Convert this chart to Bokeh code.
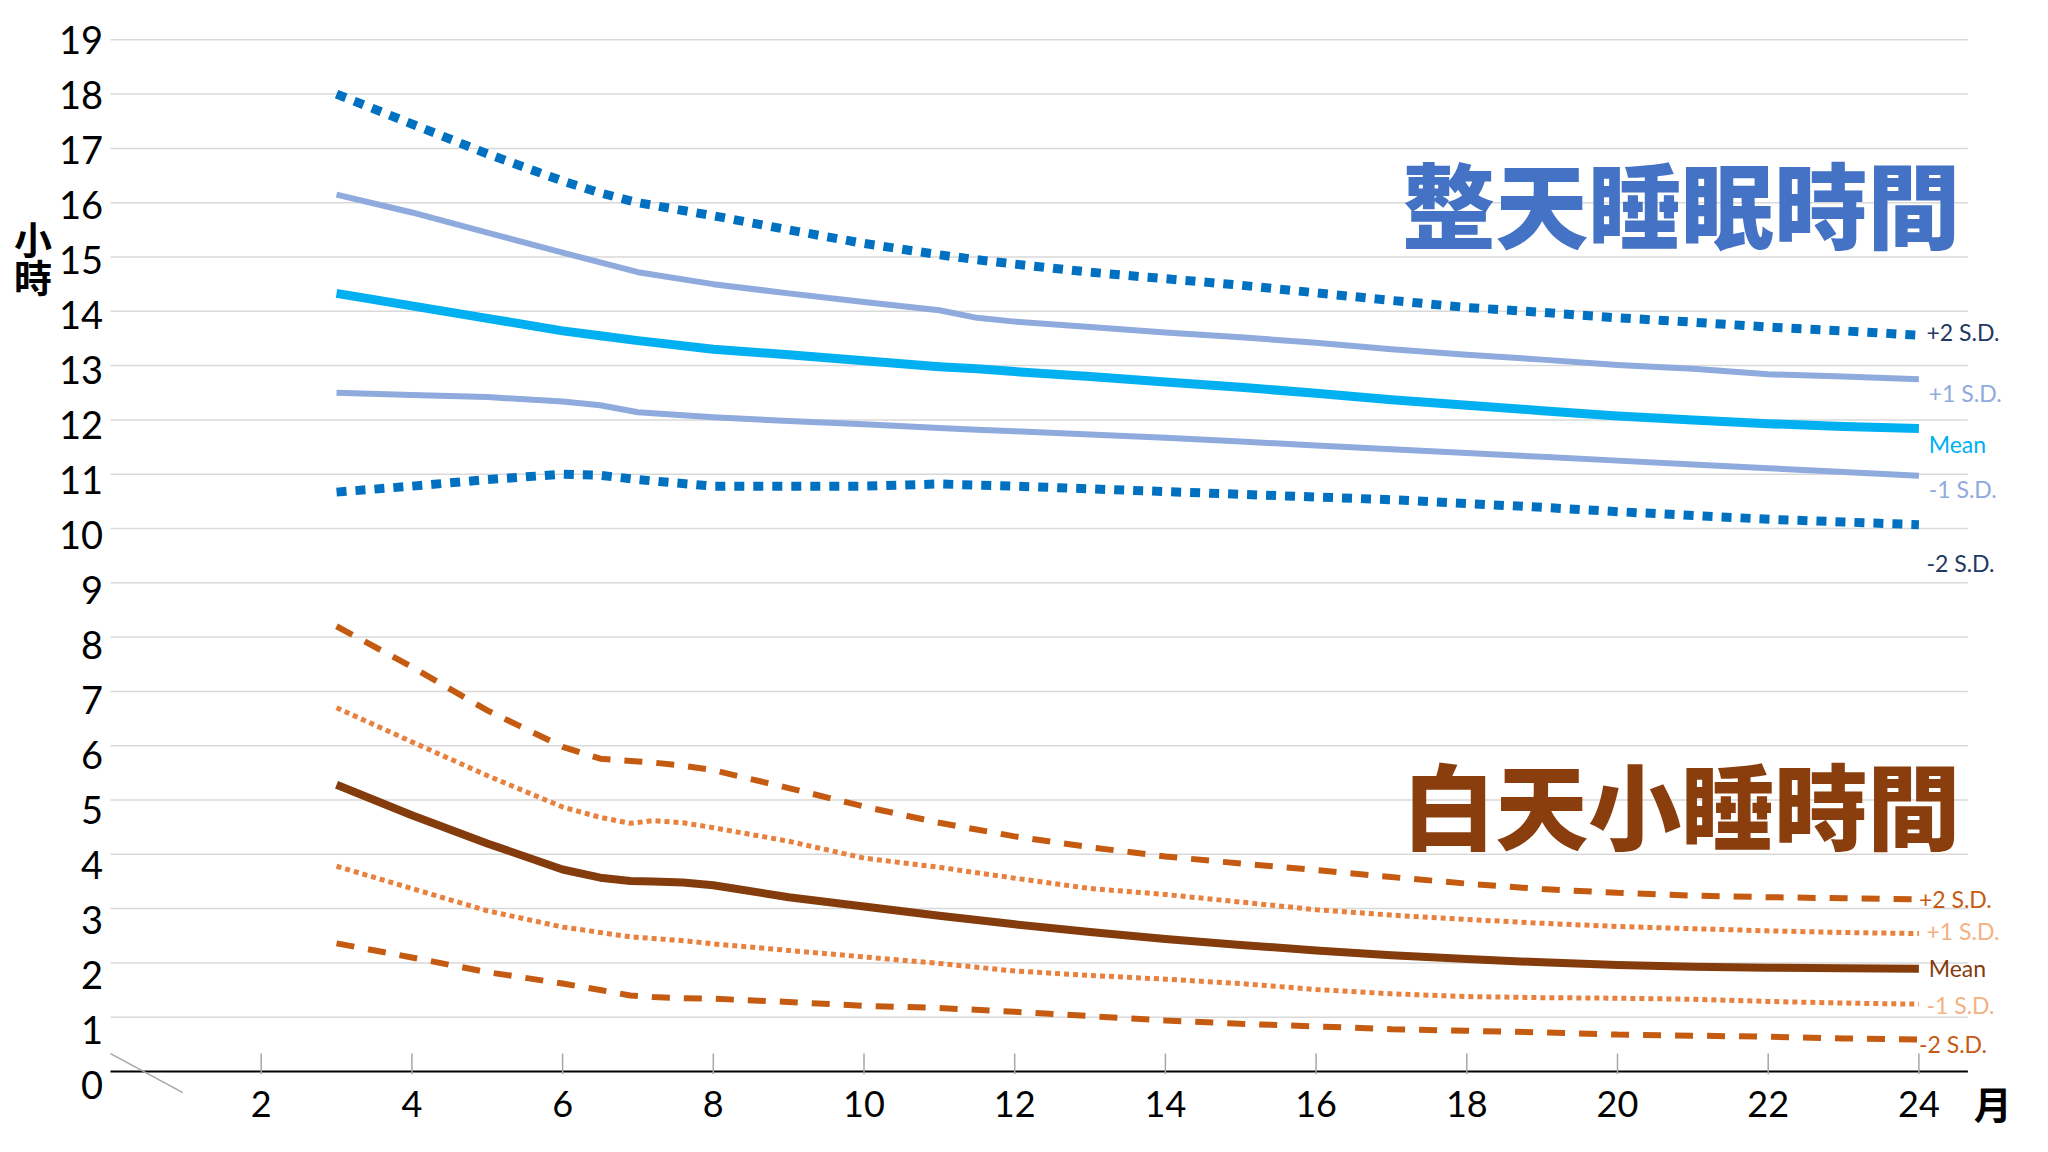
from bokeh.plotting import figure
from bokeh.core.properties import value
from bokeh.embed import file_html
from bokeh.resources import INLINE

# ---------------- data ----------------
tot_months = [3, 4, 5, 6, 6.5, 7, 8, 9, 10, 11, 11.5, 12, 13, 14, 15, 16, 17, 18,
              19, 20, 21, 22, 23, 24]
tot_p2 = [18.0, 17.45, 16.9, 16.4, 16.18, 16.0, 15.76, 15.5, 15.25, 15.04, 14.95, 14.87,
          14.72, 14.6, 14.48, 14.34, 14.2, 14.07, 13.98, 13.88, 13.8, 13.71, 13.64, 13.56]
tot_p1 = [16.15, 15.82, 15.45, 15.08, 14.9, 14.72, 14.50, 14.33, 14.17, 14.02, 13.88, 13.81,
          13.71, 13.61, 13.52, 13.42, 13.3, 13.2, 13.11, 13.01, 12.94, 12.84, 12.8, 12.75]
tot_mean = [14.33, 14.1, 13.87, 13.64, 13.55, 13.46, 13.3, 13.2, 13.09, 12.98, 12.94, 12.89,
            12.8, 12.7, 12.6, 12.49, 12.37, 12.27, 12.17, 12.07, 12.0, 11.93, 11.88, 11.84]
tot_m1 = [12.5, 12.46, 12.42, 12.34, 12.27, 12.14, 12.05, 11.98, 11.92, 11.85, 11.82, 11.79,
          11.73, 11.67, 11.6, 11.53, 11.46, 11.39, 11.32, 11.25, 11.18, 11.11, 11.04, 10.97]
tot_m2 = [10.67, 10.78, 10.9, 11.0, 10.98, 10.9, 10.78, 10.78, 10.78, 10.82, 10.8, 10.78,
          10.73, 10.68, 10.63, 10.58, 10.53, 10.46, 10.39, 10.31, 10.24, 10.17, 10.12, 10.07]

nap_months = [3, 4, 5, 6, 6.5, 6.9, 7.2, 7.6, 8, 9, 10, 11, 12, 13, 14, 15, 16,
              17, 18, 19, 20, 21, 22, 23, 24]
nap_p2 = [8.2, 7.45, 6.65, 5.98, 5.76, 5.72, 5.69, 5.63, 5.55, 5.22, 4.88, 4.58, 4.33,
          4.13, 3.96, 3.83, 3.71, 3.58, 3.46, 3.36, 3.29, 3.24, 3.21, 3.19, 3.17]
nap_p1 = [6.7, 6.07, 5.45, 4.87, 4.68, 4.57, 4.62, 4.58, 4.49, 4.24, 3.93, 3.76, 3.56,
          3.37, 3.26, 3.12, 2.98, 2.88, 2.8, 2.73, 2.67, 2.63, 2.59, 2.56, 2.54]
nap_mean = [5.28, 4.72, 4.2, 3.72, 3.57, 3.51, 3.5, 3.48, 3.43, 3.21, 3.04, 2.87, 2.71,
            2.57, 2.44, 2.33, 2.23, 2.14, 2.07, 2.01, 1.96, 1.93, 1.91, 1.9, 1.89]
nap_m1 = [3.78, 3.37, 2.96, 2.66, 2.56, 2.48, 2.45, 2.41, 2.35, 2.23, 2.11, 1.99, 1.85,
          1.77, 1.7, 1.62, 1.51, 1.43, 1.38, 1.36, 1.35, 1.33, 1.29, 1.26, 1.24]
nap_m2 = [2.36, 2.1, 1.83, 1.62, 1.5, 1.4, 1.37, 1.35, 1.34, 1.28, 1.21, 1.17, 1.1,
          1.02, 0.94, 0.88, 0.83, 0.78, 0.75, 0.72, 0.68, 0.66, 0.64, 0.61, 0.59]

x_ticks = [2, 4, 6, 8, 10, 12, 14, 16, 18, 20, 22, 24]
x_tick_labels = [str(t) for t in x_ticks]
y_ticks = list(range(0, 20))
y_tick_labels = [str(t) for t in y_ticks]

sd_labels = ["+2 S.D.", "+1 S.D.", "Mean", "-1 S.D.", "-2 S.D."]
tot_label_x = [24.1, 24.13, 24.13, 24.13, 24.1]
tot_label_y = [13.61, 12.5, 11.55, 10.72, 9.37]
tot_label_colors = ["#203864", "#8FAADC", "#00B0F0", "#8FAADC", "#203864"]
nap_label_x = [24.0, 24.1, 24.13, 24.1, 24.0]
nap_label_y = [3.17, 2.58, 1.91, 1.23, 0.5]
nap_label_colors = ["#C55A11", "#F4B183", "#843C0C", "#F4B183", "#C55A11"]

title_texts = ["整天睡眠時間", "白天小睡時間"]
title_x = [24.55, 24.55]
title_y = [16.02, 4.96]
title_colors = ["#4472C4", "#8A3E0E"]

unit_texts = ["小", "時", "月"]
unit_x = [-1.03, -1.03, 24.98]
unit_y = [15.36, 14.66, -0.57]

# plot-area extent (months / hours)
area_x = [0.0, 24.65]
break_x = [0.0, 0.96]
break_y = [0.33, -0.39]
tick_y0 = -0.05
tick_y1 = 0.33
x_label_y = -0.6
y_label_x = -0.1
y_label_drop = 0.24   # low tick labels sit slightly below their grid lines

# ---------------- figure ----------------
W, H = 2032, 1136
PX_LEFT, PX_PER_MONTH = 110, 75.35
PX_ZERO, PX_PER_HOUR = 1071, 54.3
x_range = (-PX_LEFT / PX_PER_MONTH, (W - PX_LEFT) / PX_PER_MONTH)
y_range = (-(H - PX_ZERO) / PX_PER_HOUR, PX_ZERO / PX_PER_HOUR)

p = figure(width=W, height=H, x_range=x_range, y_range=y_range,
           output_backend="svg", toolbar_location=None, title=None,
           min_border=0)
p.outline_line_color = None
p.background_fill_color = "white"
p.xaxis.visible = False
p.yaxis.visible = False
p.xgrid.grid_line_color = None
p.ygrid.grid_line_color = None

# horizontal grid lines
grid_ticks = y_ticks[1:]
p.segment(x0=[area_x[0]] * len(grid_ticks), x1=[area_x[1]] * len(grid_ticks),
          y0=grid_ticks, y1=grid_ticks, line_color="#D9D9D9", line_width=1.5)
# x axis line at 0
p.line(area_x, [0, 0], line_color="black", line_width=2)
# axis break mark and ticks
p.line(break_x, break_y, line_color="#A6A6A6", line_width=1.5)
p.segment(x0=x_ticks, y0=[tick_y0] * len(x_ticks), x1=x_ticks, y1=[tick_y1] * len(x_ticks),
          line_color="#A6A6A6", line_width=1.5)

# tick labels
top = y_ticks[-1]
y_label_pos = [t - y_label_drop * (top - t) / top for t in y_ticks]
p.text(x=[y_label_x] * len(y_ticks), y=y_label_pos, text=y_tick_labels,
       text_font=value("Lato"), text_font_size="38px", text_color="black",
       text_align="right", text_baseline="middle")
p.text(x=x_ticks, y=[x_label_y] * len(x_ticks), text=x_tick_labels,
       text_font=value("Lato"), text_font_size="36px", text_color="black",
       text_align="center", text_baseline="middle")

# total sleep lines
p.line(tot_months, tot_m2, line_color="#0070C0", line_width=9, line_dash="10 9")
p.line(tot_months, tot_p2, line_color="#0070C0", line_width=9, line_dash="10 9")
p.line(tot_months, tot_m1, line_color="#8FAADC", line_width=6, line_join="round")
p.line(tot_months, tot_p1, line_color="#8FAADC", line_width=6, line_join="round")
p.line(tot_months, tot_mean, line_color="#00B0F0", line_width=9, line_join="round")

# nap lines
p.line(nap_months, nap_p2, line_color="#C55A11", line_width=6, line_dash="18 14")
p.line(nap_months, nap_m2, line_color="#C55A11", line_width=6, line_dash="18 14")
p.line(nap_months, nap_p1, line_color="#E8803E", line_width=5, line_dash="5 4")
p.line(nap_months, nap_m1, line_color="#E8803E", line_width=5, line_dash="5 4")
p.line(nap_months, nap_mean, line_color="#843C0C", line_width=8, line_join="round")

# big titles
p.text(x=title_x, y=title_y, text=title_texts, text_color=title_colors,
       text_font=value("'Noto Sans CJK TC Black', 'Noto Sans CJK TC'"),
       text_font_style="bold", text_font_size="93px",
       text_align="right", text_baseline="middle")

# right-side series labels
p.text(x=tot_label_x, y=tot_label_y, text=sd_labels, text_color=tot_label_colors,
       text_font=value("Lato"), text_font_size="23px",
       text_align="left", text_baseline="middle")
p.text(x=nap_label_x, y=nap_label_y, text=sd_labels, text_color=nap_label_colors,
       text_font=value("Lato"), text_font_size="23px",
       text_align="left", text_baseline="middle")

# unit labels
p.text(x=unit_x, y=unit_y, text=unit_texts, text_color="black",
       text_font=value("Noto Sans CJK TC"), text_font_style="bold",
       text_font_size="38px", text_align="center", text_baseline="middle")

open("out.html", "w").write(file_html(p, INLINE))
